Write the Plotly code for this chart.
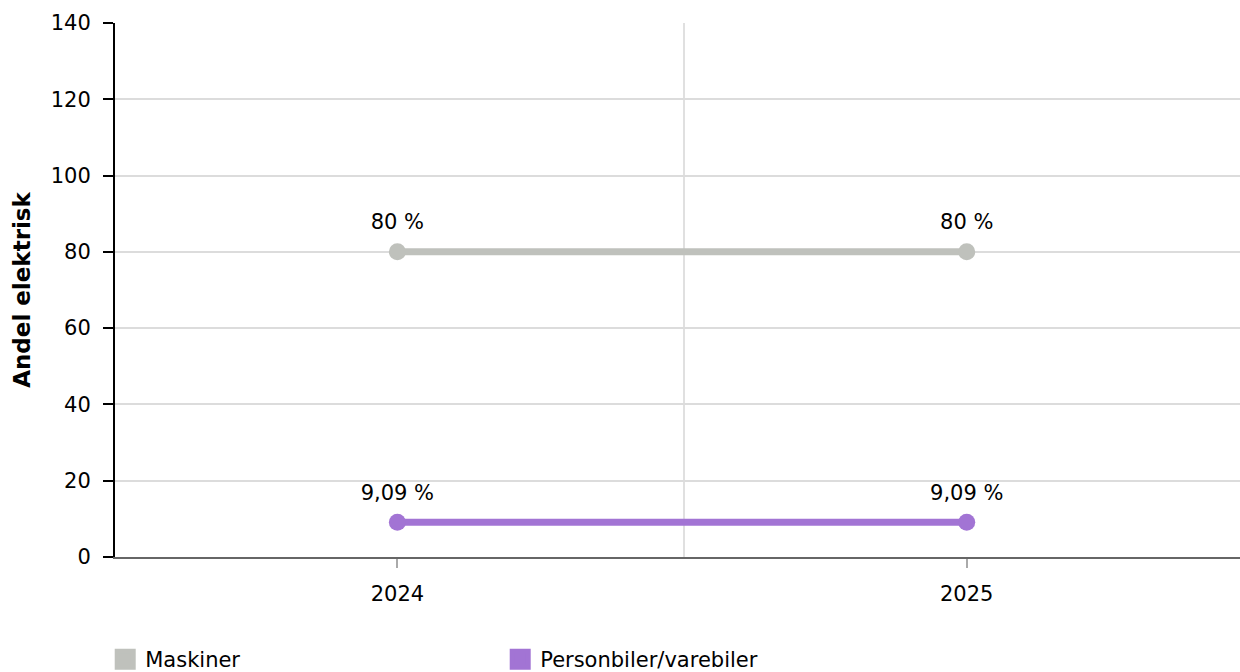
import plotly.graph_objects as go

years = ["2024", "2025"]
maskiner = [80, 80]
personbiler = [9.09, 9.09]
series_names = ["Maskiner", "Personbiler/varebiler"]
colors = ["#bfc1bc", "#a274d4"]
y_ticks = [0, 20, 40, 60, 80, 100, 120, 140]

FONT = "DejaVu Sans"
FS = 21
xpos = list(range(len(years)))

fig = go.Figure()
for name, vals, col in zip(series_names, [maskiner, personbiler], colors):
    labels = [f"{v:g} %".replace(".", ",") for v in vals]
    fig.add_trace(go.Scatter(
        x=xpos, y=vals, mode="lines+markers", name=name,
        line=dict(color=col, width=7), marker=dict(color=col, size=17),
        showlegend=False, cliponaxis=False, hoverinfo="skip",
    ))
    fig.add_trace(go.Scatter(
        x=xpos, y=vals, mode="markers+text", name=name,
        marker=dict(color="rgba(0,0,0,0)", size=26),
        text=labels, textposition="top center",
        textfont=dict(family=FONT, size=FS, color="#000"),
        showlegend=False, cliponaxis=False,
    ))
    fig.add_trace(go.Scatter(
        x=[None], y=[None], mode="markers", name=name,
        marker=dict(color=col, size=25, symbol="square", line=dict(color=col, width=5)),
        showlegend=True,
    ))

fig.update_layout(
    width=1240, height=684,
    margin=dict(l=115, r=0, t=23, b=127),
    paper_bgcolor="white", plot_bgcolor="white",
    font=dict(family=FONT, size=FS, color="#000"),
    legend=dict(orientation="h", x=-0.0087, xanchor="left",
                y=-0.1536, yanchor="top",
                entrywidth=350, entrywidthmode="pixels",
                font=dict(family=FONT, size=FS, color="#000"), itemsizing="trace"),
)
fig.update_xaxes(
    range=[-0.496, 1.48], tickvals=xpos, ticktext=years,
    showgrid=False, zeroline=False,
    showline=True, linecolor="#666", linewidth=2,
    ticks="outside", ticklen=9, tickcolor="#aaa", tickwidth=2,
    tickfont=dict(family=FONT, size=FS), ticklabelstandoff=8,
    minor=dict(tickvals=[0.504], showgrid=True, gridcolor="#e0e0e0", gridwidth=2, ticklen=0),
)
fig.update_yaxes(
    range=[0, 140], tickvals=y_ticks,
    showgrid=True, gridcolor="#dcdcdc", gridwidth=2, zeroline=False,
    showline=True, linecolor="#000", linewidth=2,
    ticks="outside", ticklen=10, tickcolor="#000", tickwidth=2,
    tickfont=dict(family=FONT, size=FS), ticklabelstandoff=8,
    title=dict(text="<b>Andel elektrisk</b>", font=dict(family=FONT, size=23), standoff=14),
)
fig.write_html("out.html", config={"displayModeBar": False},
               post_script="document.body.style.margin='0';document.body.style.overflow='hidden';")
